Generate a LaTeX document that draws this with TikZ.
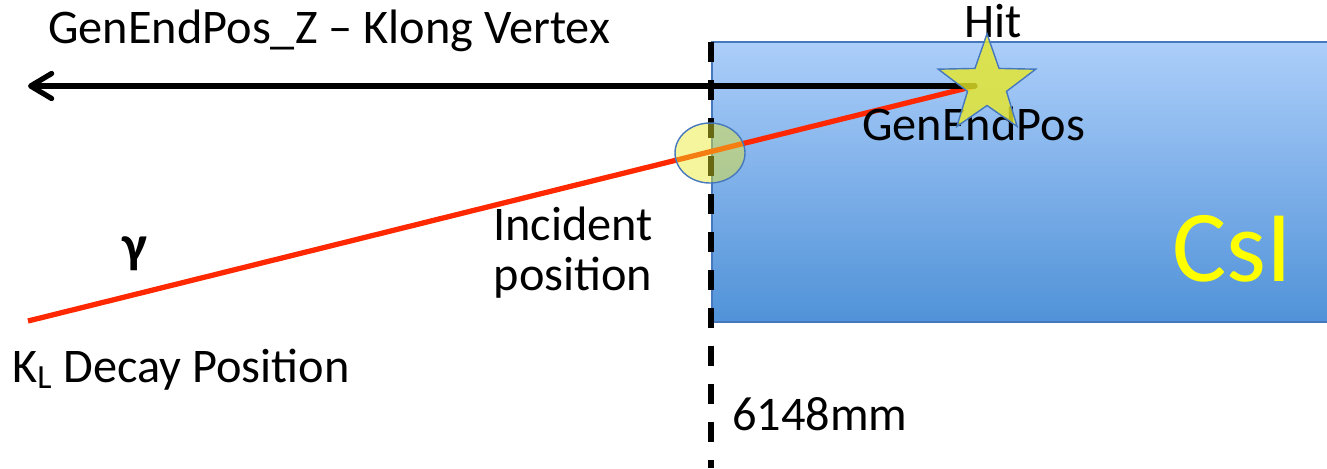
\documentclass[tikz,border=0pt]{standalone}
\usepackage{fontspec}
\setmainfont{Carlito}
\usetikzlibrary{shapes.geometric,arrows.meta}
\definecolor{boxtop}{RGB}{172,206,250}
\definecolor{boxbot}{RGB}{80,146,216}
\definecolor{boxedge}{RGB}{70,120,190}
\definecolor{rayred}{RGB}{255,40,0}
\definecolor{staryel}{RGB}{232,232,40}
\definecolor{csiyel}{RGB}{255,255,0}
\tikzset{
  lbl/.style={font=\fontsize{27.5}{33}\selectfont, text=black, inner sep=0pt},
  ray/.style={rayred, line width=3pt},
  axis/.style={black, line width=3pt},
  plane/.style={black, line width=3pt, dash pattern=on 0.4cm off 0.36cm},
}
\begin{document}
\begin{tikzpicture}[x=0.02cm,y=-0.02cm]
\useasboundingbox (0,0) rectangle (1327,468);
% CsI block
\shade[top color=boxtop, bottom color=boxbot] (712,42) rectangle (1327,322);
\draw[boxedge, line width=0.6pt] (1327,42) -- (712,42) -- (712,322) -- (1327,322);
\node[font=\fontsize{58}{62}\selectfont, text=csiyel, anchor=base, inner sep=0pt] (csi) at (1232,281) {CsI};
% dashed plane
\coordinate (ptop) at (711,42);
\coordinate (pbot) at (711,468);
\draw[plane] (ptop) -- (pbot);
% points
\coordinate (decay) at (28,321);
\coordinate (hit) at (975,86);
\coordinate (arrend) at (28,86);
% red ray
\draw[ray] (decay) -- (hit);
% black arrow
\draw[axis, line cap=round, -{Straight Barb[length=0.42cm, width=0.5cm, round]}] (hit) -- (arrend);
% incident ellipse
\node[ellipse, draw=boxedge, line width=0.8pt, fill=staryel, fill opacity=0.45, minimum width=1.4cm, minimum height=1.2cm, inner sep=0pt] (inc) at (710,153) {};
% labels
\node[lbl, anchor=base west] (title) at (48,43) {GenEndPos\_Z – Klong Vertex};
\node[lbl, anchor=base] (hitlbl) at (993,37) {Hit};
\node[lbl, anchor=base west] (gep) at (862,140) {GenEndPos};
\node[lbl, align=center, anchor=north] (inclbl) at (573,207) {Incident\\[-5pt]position};
\node[lbl, anchor=base, font=\fontsize{30}{34}\selectfont\bfseries] (gam) at (135,262) {γ};
\node[lbl, anchor=base west] (kl) at (12,382) {K\textsubscript{L} Decay Position};
\node[lbl, anchor=base west] (mm) at (732,430) {6148mm};
% star
\node[star, star points=5, star point ratio=2.5, draw=boxedge, line width=0.8pt, fill=staryel, fill opacity=0.8, minimum size=2.05cm, inner sep=0pt] (star) at (987,85) {};
\end{tikzpicture}
\end{document}
